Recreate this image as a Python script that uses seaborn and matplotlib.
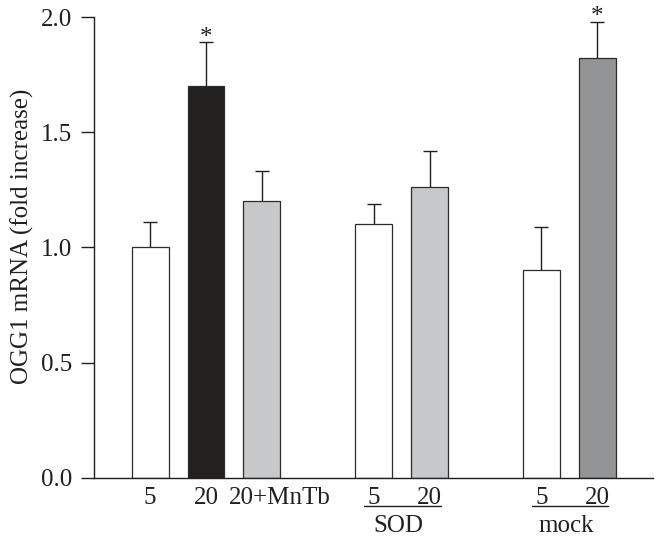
import seaborn as sns
import pandas as pd
import matplotlib.pyplot as plt
import matplotlib.transforms as mtransforms

# bar data, left to right
positions = [0, 1, 2, 4, 5, 7, 8]
tick_labels = ["5", "20", "20+MnTb", "5", "20", "5", "20"]
means = [1.00, 1.70, 1.20, 1.10, 1.26, 0.90, 1.82]
errors = [0.11, 0.19, 0.13, 0.09, 0.16, 0.19, 0.16]
colors = ["#ffffff", "#231f20", "#c7c8ca", "#ffffff", "#c7c8ca", "#ffffff", "#929497"]
starred = [False, True, False, False, False, False, True]
groups = [("SOD", 4, 5), ("mock", 7, 8)]

df = pd.DataFrame({"pos": positions, "mean": means, "err": errors})
df["top"] = df["mean"] + df["err"]

sns.set_style("ticks")
plt.rcParams['font.family'] = ['Liberation Serif', 'DejaVu Serif']
ink = "#231f20"

fig = plt.figure(figsize=(6.63, 5.4), dpi=100)
ax = fig.add_axes([0.1422, 0.1154, 0.8428, 0.8531])

sns.barplot(x="pos", y="mean", data=df, hue="pos", palette=colors, native_scale=True,
            width=0.66, edgecolor="#2b2b2b", linewidth=0.9, legend=False, errorbar=None,
            ax=ax, zorder=2)

# upper error bars only
ax.vlines(df["pos"], df["mean"], df["top"], color=ink, lw=1.0, zorder=1)
ax.hlines(df["top"], df["pos"] - 0.125, df["pos"] + 0.125, color=ink, lw=1.0, zorder=1)

for x, t, s in zip(df["pos"], df["top"], starred):
    if s:
        ax.annotate("*", xy=(x, t), xytext=(0, -1.2), textcoords="offset points",
                    ha="center", va="baseline", fontsize=18, color=ink,
                    annotation_clip=False)

ax.set_xlim(-1.0, 9.0)
ax.set_ylim(0, 2.0)
ax.set_yticks([0, 0.5, 1.0, 1.5, 2.0])
ax.set_yticklabels(["0.0", "0.5", "1.0", "1.5", "2.0"])
ax.set_xticks(positions)
ax.set_xticklabels(tick_labels)
ax.tick_params(axis="x", length=0, pad=6.5, labelsize=18, colors=ink)
ax.tick_params(axis="y", length=9.4, width=1.0, direction="out", labelsize=18,
               colors=ink, pad=6.5)
# the "20+MnTb" label sits right of its bar in the original
lab = ax.get_xticklabels()[2]
lab.set_transform(lab.get_transform() + mtransforms.ScaledTranslation(18 / 100, 0, fig.dpi_scale_trans))

ax.set_xlabel("")
ax.set_ylabel("OGG1 mRNA (fold increase)", fontsize=18, color=ink)
ax.yaxis.set_label_coords(-0.108, 0.523)
for side in ["left", "bottom"]:
    ax.spines[side].set_linewidth(1.0)
    ax.spines[side].set_color(ink)
sns.despine(ax=ax)

trans = ax.get_xaxis_transform()
for name, a, b in groups:
    ax.plot([a - 0.17, b + 0.2], [-0.0607, -0.0607], color=ink, lw=1.0,
            transform=trans, clip_on=False)
    ax.text((a + b) / 2 - 0.05, -0.1178, name, ha="center", va="baseline", fontsize=18,
            color=ink, transform=trans)

fig.savefig("out.png", dpi=100)
